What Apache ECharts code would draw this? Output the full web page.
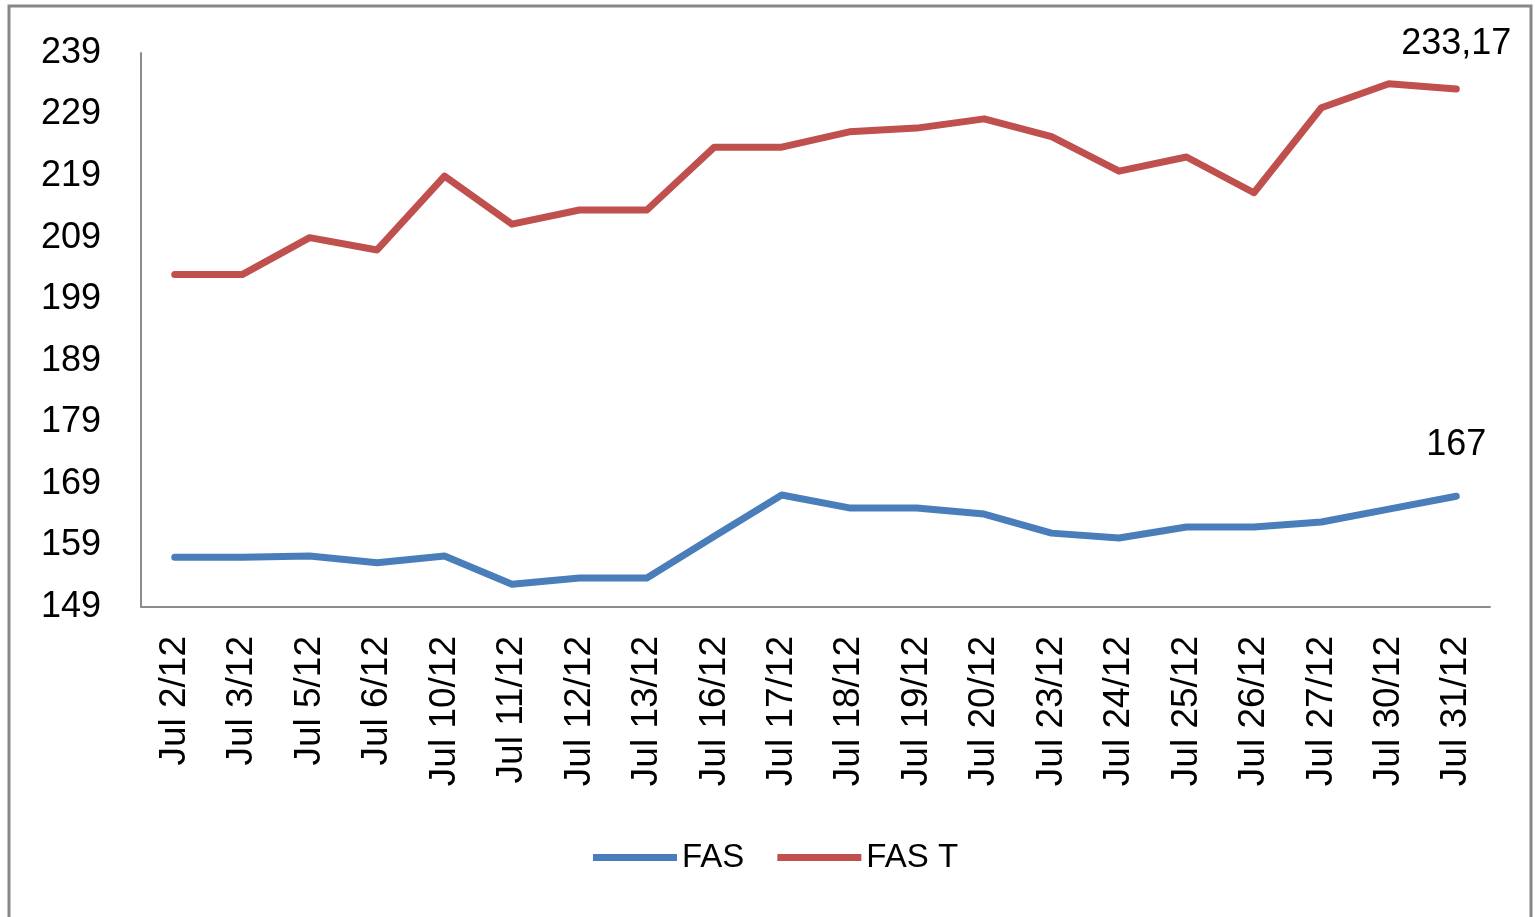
<!DOCTYPE html>
<html>
<head>
<meta charset="utf-8">
<script src="https://cdn.jsdelivr.net/npm/echarts@6/dist/echarts.min.js"></script>
<style>
    html, body { margin: 0; padding: 0; background: #fff; }
    #chart { width: 1535px; height: 917px; }
</style>
</head>
<body>
<div id="chart"></div>
<script>
const dates = ['Jul 2/12', 'Jul 3/12', 'Jul 5/12', 'Jul 6/12', 'Jul 10/12', 'Jul 11/12', 'Jul 12/12',
    'Jul 13/12', 'Jul 16/12', 'Jul 17/12', 'Jul 18/12', 'Jul 19/12', 'Jul 20/12', 'Jul 23/12',
    'Jul 24/12', 'Jul 25/12', 'Jul 26/12', 'Jul 27/12', 'Jul 30/12', 'Jul 31/12']
const fas = [157.1, 157.1, 157.3, 156.2, 157.3, 152.7, 153.7, 153.7, 160.5, 167.2,
    165.1, 165.1, 164.1, 161, 160.2, 162, 162, 162.8, 164.9, 167]
const fasT = [203, 203, 209, 207, 219, 211.2, 213.5, 213.5, 223.7, 223.7,
    226.2, 226.8, 228.3, 225.4, 219.8, 222.1, 216.3, 230.1, 234, 233.17]
const yTicks = [149, 159, 169, 179, 189, 199, 209, 219, 229, 239]

const font = 'Liberation Sans, Arial, sans-serif'
const lastIdx = dates.length - 1

// only the last point of each line carries a label, comma as decimal mark
const lastLabel = (p) => p.dataIndex === lastIdx ? String(p.value).replace('.', ',') : ''

const chart = echarts.init(document.getElementById('chart'))
chart.setOption({
    animation: false,
    backgroundColor: '#fff',
    graphic: [{
        type: 'rect',
        shape: { x: 9, y: 6, width: 1522, height: 1000 },
        style: { fill: 'none', stroke: '#878787', lineWidth: 3 },
        silent: true
    }],
    grid: { left: 141, top: 53, right: 45, bottom: 310 },
    legend: {
        data: ['FAS', 'FAS T'],
        left: 588,
        top: 836,
        icon: 'rect',
        itemWidth: 84,
        itemHeight: 7,
        itemGap: 33,
        textStyle: { fontFamily: font, fontSize: 33, color: '#000' }
    },
    xAxis: {
        type: 'category',
        data: dates,
        boundaryGap: true,
        axisLine: { lineStyle: { color: '#8c8c8c', width: 2 } },
        axisTick: { show: false },
        axisLabel: { rotate: 90, margin: 29, interval: 0, fontFamily: font, fontSize: 37, color: '#000' }
    },
    yAxis: {
        type: 'value',
        min: 149,
        max: 239,
        splitLine: { show: false },
        axisLine: { show: true, lineStyle: { color: '#8c8c8c', width: 2 } },
        axisTick: { show: false },
        axisLabel: { customValues: yTicks, margin: 40, fontFamily: font, fontSize: 36, color: '#000' }
    },
    series: [
        {
            type: 'line',
            name: 'FAS',
            data: fas,
            symbol: 'circle',
            symbolSize: 0.1,
            color: '#4A7EBB',
            lineStyle: { width: 7, cap: 'round', join: 'round' },
            label: { show: true, position: 'top', distance: 33, formatter: lastLabel,
                fontFamily: font, fontSize: 36, color: '#000' }
        },
        {
            type: 'line',
            name: 'FAS T',
            data: fasT,
            symbol: 'circle',
            symbolSize: 0.1,
            color: '#C0504D',
            lineStyle: { width: 7, cap: 'round', join: 'round' },
            label: { show: true, position: 'top', distance: 27, formatter: lastLabel,
                fontFamily: font, fontSize: 36, color: '#000' }
        }
    ]
})
</script>
</body>
</html>
